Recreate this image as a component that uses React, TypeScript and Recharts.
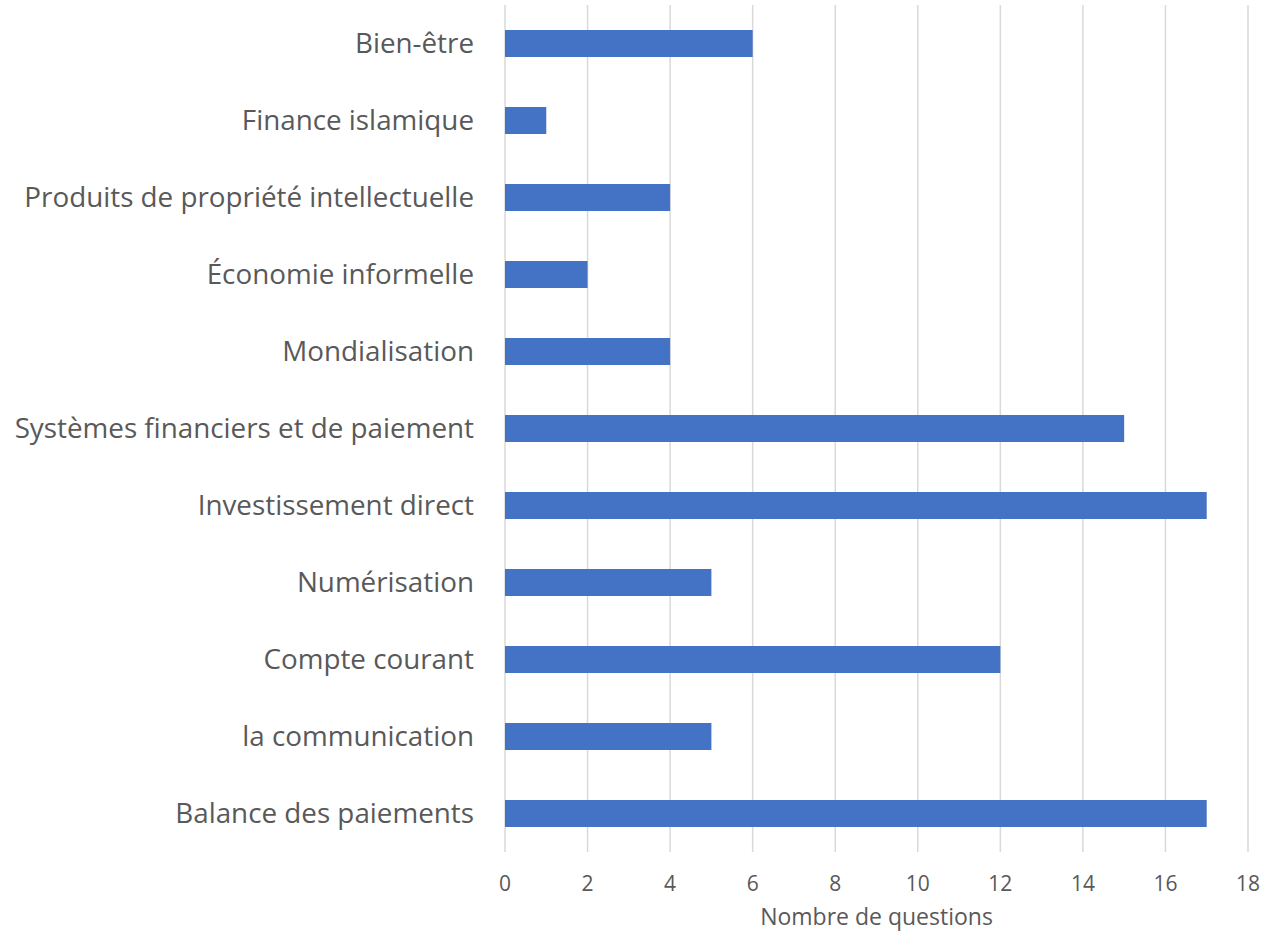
import { BarChart, Bar, XAxis, YAxis, CartesianGrid } from "recharts";

const categories = [
  "Bien-être",
  "Finance islamique",
  "Produits de propriété intellectuelle",
  "Économie informelle",
  "Mondialisation",
  "Systèmes financiers et de paiement",
  "Investissement direct",
  "Numérisation",
  "Compte courant",
  "la communication",
  "Balance des paiements",
];

const questionCounts = [6, 1, 4, 2, 4, 15, 17, 5, 12, 5, 17];

const xTicks = [0, 2, 4, 6, 8, 10, 12, 14, 16, 18];

const data = categories.map((name, i) => ({ name, count: questionCounts[i] }));

const FONT = "'Open Sans', sans-serif";
const TEXT = "#595959";

export default function App() {
  return (
    <div style={{ position: "absolute", left: 0, top: 0, background: "#fff" }}>
      <BarChart
        width={1264}
        height={933}
        data={data}
        layout="vertical"
        margin={{ top: 5, right: 16, bottom: 0, left: 0 }}
        barCategoryGap={25}
      >
        <CartesianGrid horizontal={false} stroke="#d9d9d9" strokeWidth={1.5} />
        <XAxis
          type="number"
          domain={[0, 18]}
          ticks={xTicks}
          axisLine={false}
          tickLine={false}
          tickMargin={18}
          height={81}
          tick={{ fill: TEXT, fontSize: 21, fontFamily: FONT }}
          label={{
            value: "Nombre de questions",
            position: "insideBottom",
            offset: 8,
            fill: TEXT,
            fontSize: 23,
            fontFamily: FONT,
          }}
        />
        <YAxis
          type="category"
          dataKey="name"
          width={505}
          axisLine={false}
          tickLine={false}
          tickMargin={25}
          interval={0}
          tick={{ fill: TEXT, fontSize: 27.8, fontFamily: FONT }}
        />
        <Bar dataKey="count" fill="#4472c4" isAnimationActive={false} />
      </BarChart>
    </div>
  );
}
